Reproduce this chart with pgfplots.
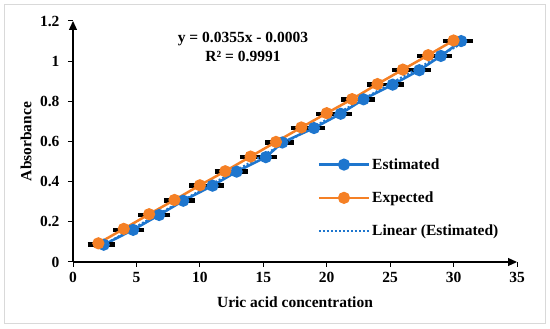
\documentclass[border=0pt]{standalone}
\usepackage{pgfplots}
\pgfplotsset{compat=1.18}
\usepackage{pgfplotstable}
\usepackage{fontspec}
\setmainfont{Liberation Serif}
\usetikzlibrary{arrows.meta}
\definecolor{exblue}{RGB}{30,118,206}
\definecolor{exorange}{RGB}{245,128,37}

\pgfplotstableread{
x     y      ep   em
2.42  0.086  0.5  0.87
4.74  0.160  0.5  1.19
6.79  0.234  0.5  1.24
8.69  0.305  0.5  1.14
11.0  0.380  0.5  1.45
12.9  0.450  0.5  1.35
15.2  0.522  0.5  1.65
16.5  0.595  0.5  0.95
19.0  0.667  0.5  1.45
21.1  0.738  0.5  1.55
22.9  0.810  0.5  1.35
25.2  0.883  0.5  1.65
27.3  0.955  0.5  1.75
29.0  1.026  0.5  1.45
30.6  1.100  0.5  1.05
}\estimated

\pgfplotstableread{
x   y
2   0.093
4   0.165
6   0.238
8   0.309
10  0.382
12  0.452
14  0.525
16  0.598
18  0.670
20  0.741
22  0.811
24  0.886
26  0.958
28  1.030
30  1.103
}\expected

\def\myfont{\fontsize{15.5}{17}\selectfont\bfseries}
\begin{document}
\begin{tikzpicture}[font=\myfont]
\useasboundingbox (0,0) rectangle (550pt,329pt);
\draw[black!15, line width=1pt] (4.5pt,5.5pt) rectangle (545.5pt,324.5pt);
\begin{axis}[
  at={(73pt,67pt)}, anchor=south west,
  scale only axis, width=444pt, height=241pt,
  xmin=0, xmax=35, ymin=0, ymax=1.2,
  axis lines=left,
  axis line style={line width=1.2pt, -{Triangle[length=9pt,width=8pt]}},
  xtick={0,5,10,15,20,25,30,35},
  ytick={0,0.2,0.4,0.6,0.8,1,1.2},
  tick align=outside, major tick length=5pt,
  tick style={black, line width=1pt},
  /pgf/number format/assume math mode=true,
  tick label style={font=\myfont},
  yticklabel style={xshift=-5pt},
  xticklabel style={yshift=-2pt},
  xlabel={Uric acid concentration},
  ylabel={Absorbance},
  label style={font=\myfont},
  xlabel style={at={([yshift=-40pt]axis description cs:0.5,0)}, anchor=center},
  ylabel style={at={([xshift=-47pt]axis description cs:0,0.5)}, anchor=center},
  clip=false,
  legend style={draw=none, fill=none, at={(0.544,0.447)}, anchor=north west,
    font=\myfont, row sep=17pt},
  legend cell align=left,
  legend image code/.code={%
    \draw[mark repeat=2, mark phase=2, #1] plot coordinates {(0pt,0pt) (25pt,0pt) (50pt,0pt)};},
]
\addplot[exblue, line width=2.5pt, mark=*, mark size=4.8pt,
  error bars/.cd, x dir=both, x explicit,
  error bar style={black, line width=3.5pt},
  error mark options={black, line width=4.5pt, mark size=5pt}]
  table[x=x, y=y, x error plus=ep, x error minus=em] {\estimated};
\addlegendentry{Estimated}
\addplot[exorange, line width=2.5pt, mark=*, mark size=4.8pt]
  table[x=x, y=y] {\expected};
\addlegendentry{Expected}
\addplot[exblue, line width=2pt, dash pattern=on 2pt off 2pt, no marks]
  coordinates {(2.42,0.0856) (30.6,1.0860)};
\addlegendentry{Linear (Estimated)}
\node[align=center, font=\fontsize{15.5}{19}\selectfont\bfseries] at (axis cs:13.4,1.07)
  {y = 0.0355x - 0.0003\\R² = 0.9991};
\end{axis}
\end{tikzpicture}
\end{document}
